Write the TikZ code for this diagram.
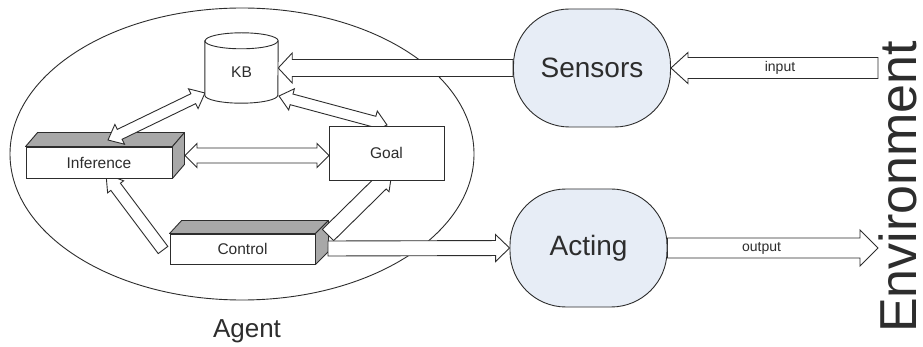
\documentclass[tikz,border=0pt]{standalone}
\usepackage{fontspec}
\setmainfont{Liberation Sans}
\usetikzlibrary{calc}
\definecolor{linec}{RGB}{45,45,45}
\definecolor{bubblec}{RGB}{231,237,246}
\definecolor{facec}{RGB}{168,168,168}
\newcommand{\fsz}[1]{\fontsize{#1}{#1}\selectfont}
% point in the local frame of an arrow (u along, v across), used inside let
\newcommand{\ArrPt}[2]{($(\p1)+(\n1:{(#1)*1pt})+(\n1+90:{(#2)*1pt})$)}
% single hollow arrow: [opts]{from}{to}{shaft half width}{head half width}{head length}
\newcommand{\hollowone}[6][]{%
  \draw[arrowbody,#1] let \p1=(#2), \p2=(#3),
    \n1={atan2(\y2-\y1,\x2-\x1)}, \n2={veclen(\x2-\x1,\y2-\y1)} in
    \ArrPt{0}{#4} -- \ArrPt{\n2-#6}{#4} -- \ArrPt{\n2-#6}{#5} -- \ArrPt{\n2}{0}
    -- \ArrPt{\n2-#6}{-#5} -- \ArrPt{\n2-#6}{-#4} -- \ArrPt{0}{-#4} -- cycle;}
% double hollow arrow
\newcommand{\hollowtwo}[6][]{%
  \draw[arrowbody,#1] let \p1=(#2), \p2=(#3),
    \n1={atan2(\y2-\y1,\x2-\x1)}, \n2={veclen(\x2-\x1,\y2-\y1)} in
    \ArrPt{0}{0} -- \ArrPt{#6}{#5} -- \ArrPt{#6}{#4} -- \ArrPt{\n2-#6}{#4}
    -- \ArrPt{\n2-#6}{#5} -- \ArrPt{\n2}{0} -- \ArrPt{\n2-#6}{-#5} -- \ArrPt{\n2-#6}{-#4}
    -- \ArrPt{#6}{-#4} -- \ArrPt{#6}{-#5} -- cycle;}
\begin{document}
\begin{tikzpicture}[x=1pt,y=-1pt,
  txt/.style={font=\fsz{15.5}, text=linec},
  flatbox/.style={draw=linec, fill=white, line width=0.9pt, inner sep=0pt},
  face/.style={draw=linec, fill=facec, line width=0.9pt, line join=round},
  bubble/.style={draw=linec, fill=bubblec, rounded corners=56pt, minimum width=157pt,
     minimum height=118pt, inner sep=0pt, line width=0.9pt, font=\fsz{28}, text=linec},
  arrowbody/.style={draw=linec, fill=white, line width=0.9pt, line join=miter},
  small/.style={font=\fsz{14}, text=linec}]
\useasboundingbox (0,0) rectangle (923,347);
\fill[white] (0,0) rectangle (923,347);

% agent boundary
\draw[linec, line width=0.9pt] (242,154) ellipse [x radius=232pt, y radius=146pt];

% control box (3D)
\node[flatbox, txt, minimum width=145pt, minimum height=30pt] (ctrl) at (242.5,249) {Control};
\draw[face] (ctrl.north west) -- ++(12,-13) -- ($(ctrl.north east)+(13,-13)$) -- (ctrl.north east) -- cycle;
\draw[face] (ctrl.north east) -- ++(13,-13) -- ($(ctrl.south east)+(13,-13)$) -- (ctrl.south east) -- cycle;

% named end points of inner connectors
\coordinate (ig1) at (185,155.5);
\coordinate (ig2) at (329,155.5);
\coordinate (ci1) at (163,250);
\coordinate (ci2) at (106,174);
\coordinate (cg1) at (328,235);
\coordinate (cg2) at (392,172);
\coordinate (kg1) at (279,96);
\coordinate (kg2) at (387,125);
\coordinate (ik1) at (108,140);
\coordinate (ik2) at (205,93);
\coordinate (ca1) at (328,248.5);
\coordinate (envin) at (878,68);
\coordinate (envout) at (878,248);

% outer bubbles (positions only needed for anchors; drawn later)
\path (592,68) node[bubble, draw=none, fill=none, text opacity=0] (sens) {Sensors};
\path (588.5,248) node[bubble, draw=none, fill=none, text opacity=0] (act) {Acting};
\path node[txt, minimum width=73pt, minimum height=62pt, inner sep=0pt] (kb) at (241.5,72) {};

% connectors
\hollowone{ci1}{ci2}{6}{10}{16}
\hollowone{cg1}{cg2}{8}{12}{16}
\hollowtwo{ig1}{ig2}{7.5}{12}{12}
\hollowtwo{kg1}{kg2}{5.5}{11}{13}
\hollowone{sens.west}{kb.east |- sens.west}{8.5}{15}{14}
\hollowone{envin}{sens.east}{10.5}{15.5}{17}
\hollowone{ca1}{act.west}{7.5}{13.5}{14}
\hollowone{act.east}{envout}{10}{18}{18}

% inference box (3D)
\node[flatbox, txt, minimum width=146pt, minimum height=31pt] (inf) at (99,162.5) {Inference};
\draw[face] (inf.north west) -- ++(12,-14) -- ($(inf.north east)+(12,-14)$) -- (inf.north east) -- cycle;
\draw[face] (inf.north east) -- ++(12,-14) -- ($(inf.south east)+(12,-14)$) -- (inf.south east) -- cycle;
\hollowtwo{ik1}{ik2}{5.5}{11}{13}

% goal box
\node[flatbox, txt, minimum width=115pt, minimum height=54pt] (goal) at (386.5,153) {Goal};

% knowledge base cylinder
\draw[linec, fill=white, line width=0.9pt] (kb.north west) -- ($(kb.south west)+(0,-8)$)
   arc[start angle=180, end angle=360, x radius=36.5pt, y radius=8pt]
   -- (kb.north east) arc[start angle=0, end angle=180, x radius=36.5pt, y radius=8pt] -- cycle;
\draw[linec, line width=0.9pt] (kb.north west) arc[start angle=180, end angle=360, x radius=36.5pt, y radius=8pt];
\node[txt] at (kb.center) {KB};

% sensors and acting
\node[bubble] at (sens.center) {Sensors};
\node[bubble] at (act.center) {Acting};

% labels
\node[small] (inlab) at (780,68) {input};
\node[small] (outlab) at (761.5,248) {output};
\node[font=\fsz{26}, text=linec] (agentlab) at (247,331) {Agent};
\node[font=\fsz{52}, text=linec, rotate=90, inner sep=0pt, anchor=base west] (envlab) at (916,333) {Environment};
\end{tikzpicture}
\end{document}
